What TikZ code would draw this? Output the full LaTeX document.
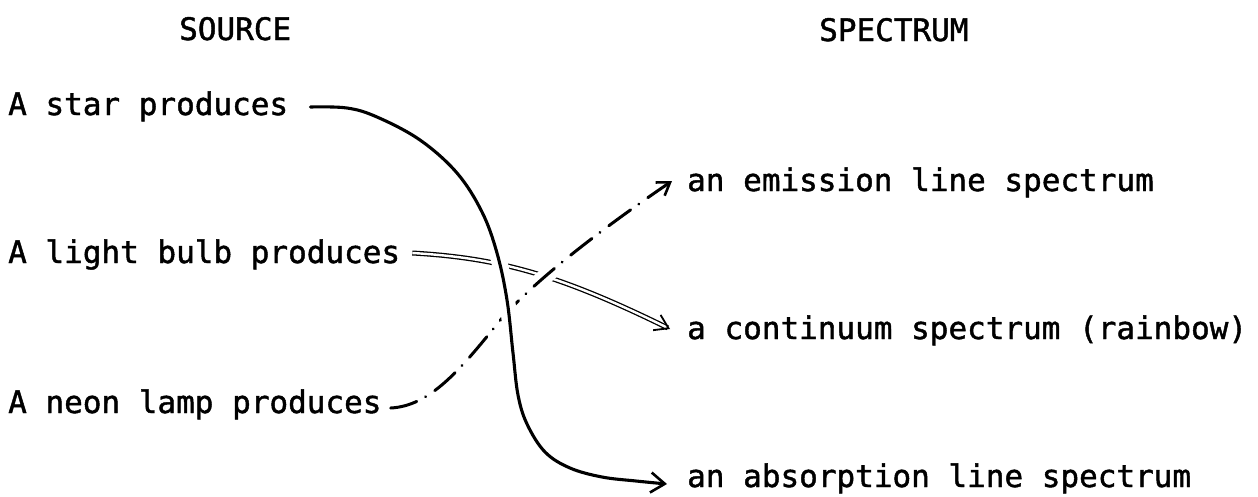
\documentclass[tikz,border=0pt]{standalone}
\usepackage{fontspec}
\newfontfamily\lblfont{DejaVu Sans Mono}[FakeBold=1.4]
\usetikzlibrary{arrows.meta}
\begin{document}
\begin{tikzpicture}[x=1pt,y=-1pt,
  lbl/.style={font=\lblfont\fontsize{31}{36}\selectfont, inner sep=0pt, anchor=base west},
  solidcon/.style={line width=3.1pt, line cap=round, line join=round,
    -{Straight Barb[length=14pt,width=20pt,line width=2.6pt]}},
  dblcon/.style={double, line width=1.3pt, double distance=2.4pt,
    -{Straight Barb[length=13pt,width=17pt,line width=1.8pt]}},
  dashcon/.style={line width=3pt, line cap=round,
    dash pattern=on 27pt off 10pt on 0.1pt off 11pt,
    -{Straight Barb[length=12pt,width=16pt,line width=2.6pt]}},
  halo/.style={preaction={draw=white, line width=16pt, solid, -}}
]
\useasboundingbox (0,0) rectangle (1258,496);
\fill[white] (0,0) rectangle (1258,496);

% headers
\node[lbl] (hsrc) at (179,40) {SOURCE};
\node[lbl] (hspec) at (819,41) {SPECTRUM};

% sources
\node[lbl] (star) at (8,115) {A star produces};
\node[lbl] (bulb) at (8,263) {A light bulb produces};
\node[lbl] (neon) at (8,413) {A neon lamp produces};

% spectra
\node[lbl] (emis) at (687,191) {an emission line spectrum};
\node[lbl] (cont) at (687,339) {a continuum spectrum (rainbow)};
\node[lbl] (absr) at (687,487) {an absorption line spectrum};

% light bulb -> continuum (double line)
\draw[dblcon] ([shift={(12,-10)}]bulb.base east)
  .. controls (500,258) and (560,275) .. ([shift={(-17,-10)}]cont.base west);

% neon lamp -> emission (dash-dot)
\draw[dashcon, halo] ([shift={(9,-5)}]neon.base east)
  .. controls (430,406) and (460,370) .. (498,323)
  .. controls (530,284) and (600,230) .. ([shift={(-15,-10)}]emis.base west);

% star -> absorption (solid curve)
\draw[solidcon, halo] plot[smooth, tension=0.6] coordinates {
  ([shift={(22,-8)}]star.base east) (347,108) (377,117) (420,140)
  (457,173) (482,212) (497,253) (507,300) (513,353) (518,395)
  (527,424) (545,452) (570,468) (602,477) (636,481)
  ([shift={(-20,-3)}]absr.base west)};
\end{tikzpicture}
\end{document}
